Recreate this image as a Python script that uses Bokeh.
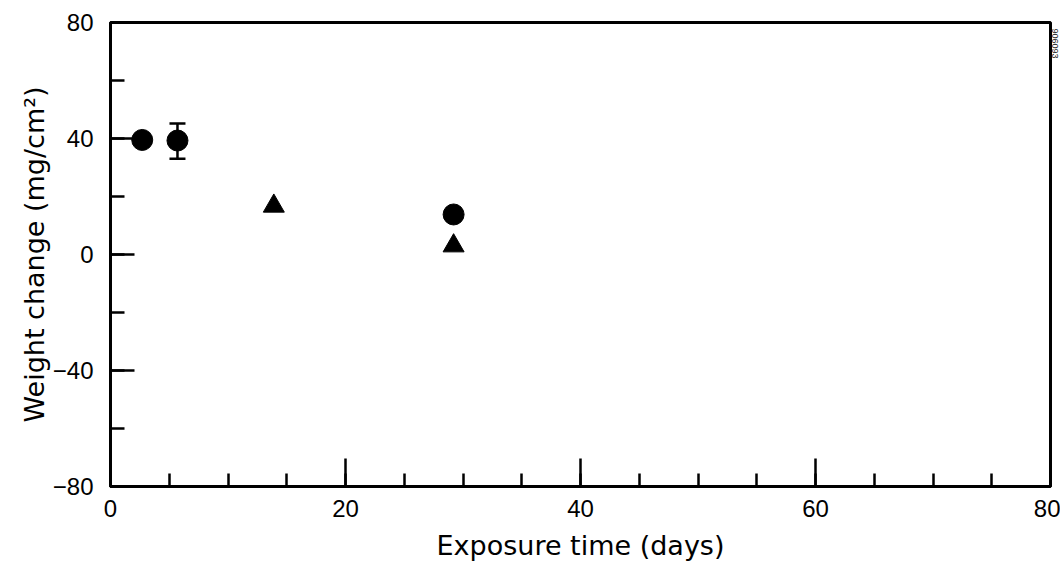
import math
from bokeh.plotting import figure
from bokeh.models import SingleIntervalTicker, Whisker, ColumnDataSource, Range1d, Title
from bokeh.embed import file_html
from bokeh.resources import INLINE

# Data
circle_x = [2.7, 5.7, 29.2]
circle_y = [39.5, 39.3, 13.8]
tri_x = [13.9, 29.2]
tri_y = [16.7, 3.0]
err_x = [5.7]
err_low = [33.0]
err_high = [45.2]

TICK_FONT = "Liberation Sans"
LABEL_FONT = "DejaVu Sans"

p = figure(width=1060, height=563, output_backend="svg", toolbar_location=None,
           x_range=Range1d(0, 80), y_range=Range1d(-80, 80),
           min_border_left=110, min_border_right=0, min_border_top=22, min_border_bottom=74)
p.background_fill_color = "white"
p.border_fill_color = "white"
p.grid.visible = False
p.outline_line_color = "black"
p.outline_line_width = 3
p.outline_line_alpha = 1

p.xaxis.ticker = SingleIntervalTicker(interval=20, num_minor_ticks=4)
p.yaxis.ticker = SingleIntervalTicker(interval=40, num_minor_ticks=2)

for ax in (p.xaxis[0], p.yaxis[0]):
    ax.axis_line_width = 3
    ax.axis_line_color = "black"
    ax.major_tick_line_width = 2.5
    ax.minor_tick_line_width = 2.5
    ax.major_tick_line_color = "black"
    ax.minor_tick_line_color = "black"
    ax.major_tick_out = 0
    ax.minor_tick_out = 0
    ax.major_label_text_font = TICK_FONT
    ax.major_label_text_font_size = "24px"
    ax.major_label_text_color = "black"
    ax.axis_label_text_font = LABEL_FONT
    ax.axis_label_text_font_size = "27px"
    ax.axis_label_text_font_style = "normal"
    ax.axis_label_text_color = "black"

p.xaxis.major_tick_in = 28
p.xaxis.minor_tick_in = 13
p.yaxis.major_tick_in = 24
p.yaxis.minor_tick_in = 14
p.xaxis.major_label_standoff = 13
p.yaxis.major_label_standoff = 17
p.xaxis.axis_label = "Exposure time (days)"
p.yaxis.axis_label = "Weight change (mg/cm\u00b2)"
p.xaxis.axis_label_standoff = 10
p.yaxis.axis_label_standoff = 0

src_err = ColumnDataSource(dict(x=err_x, lower=err_low, upper=err_high))
w = Whisker(source=src_err, base="x", lower="lower", upper="upper",
            line_color="black", line_width=2.5)
w.upper_head.size = 16
w.lower_head.size = 16
w.upper_head.line_width = 2.5
w.lower_head.line_width = 2.5
p.add_layout(w)

p.scatter(circle_x, circle_y, marker="circle", size=21, fill_color="black", line_color="black")
p.scatter(tri_x, tri_y, marker="triangle", size=21, fill_color="black", line_color="black")

id_title = Title(text="906093", align="left", text_font=TICK_FONT, text_font_size="9px",
                 text_font_style="normal", text_color="#222222", offset=6, standoff=2)
p.add_layout(id_title, "right")

open("out.html", "w").write(file_html(p, INLINE))
